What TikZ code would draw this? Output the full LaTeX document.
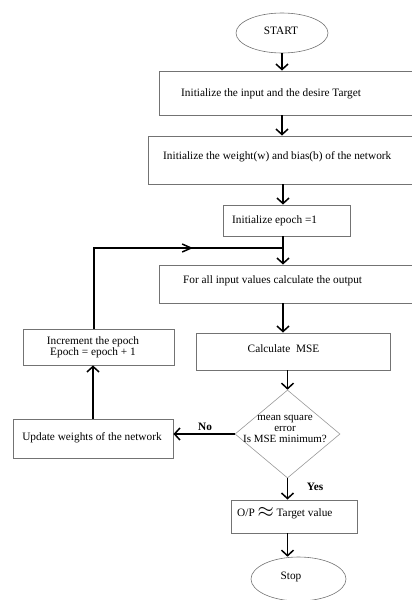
\documentclass[tikz,border=0pt]{standalone}
\usepackage{fontspec}
\setmainfont{Liberation Serif}
\usetikzlibrary{arrows.meta,shapes.geometric}
\begin{document}
\begin{tikzpicture}[x=1pt,y=-1pt,
  box/.style={draw=black!55,line width=0.9pt,rectangle,inner sep=0pt},
  oval/.style={draw=black!55,line width=0.6pt,ellipse,inner sep=0pt},
  dia/.style={draw=black!40,line width=0.6pt,diamond,inner sep=0pt},
  txt/.style={inner sep=0pt,font=\fontsize{11.3}{12}\selectfont},
  lbl/.style={inner sep=0pt,font=\fontsize{11.3}{12}\selectfont\bfseries},
  conn/.style={line width=1.5pt,black},
  arr/.style={conn,-{Straight Barb[length=5.5pt,width=12pt,line width=1.5pt]}},
  every node/.style={anchor=center}]
\useasboundingbox (0,0) rectangle (412,600);
\clip (0,0) rectangle (412,600);
% shapes
\node[oval,minimum width=92pt,minimum height=40pt] (start) at (282,33) {};
\node[txt] (tstart) at (281,31) {START};
\node[box,minimum width=256pt,minimum height=44pt] (b1) at (287,93) {};
\node[txt,anchor=west] (t1) at (181,94) {Initialize the input and the desire Target};
\node[box,minimum width=267pt,minimum height=48pt] (b2) at (281.5,160) {};
\node[txt,anchor=west] (t2) at (163,157) {Initialize the weight(w) and bias(b) of the network};
\node[box,minimum width=127pt,minimum height=31pt] (b3) at (286.5,220.5) {};
\node[txt,anchor=west] (t3) at (232,221) {Initialize epoch =1};
\coordinate (j) at (283,248);
\coordinate (c) at (94,248);
\coordinate (m) at (193,248);
\node[box,minimum width=256pt,minimum height=38pt] (b4) at (287,284) {};
\node[txt,anchor=west] (t4) at (183,281) {For all input values calculate the output};
\node[box,minimum width=194pt,minimum height=37pt] (b5) at (293,351.5) {};
\node[txt] (t5) at (283.5,349) {Calculate\ \ MSE};
\node[dia,minimum width=105pt,minimum height=88pt] (d) at (287.5,434) {};
\node[txt,align=center,font=\fontsize{11}{11}\selectfont] (td) at (285,428.5) {mean square\\error\\Is MSE minimum?};
\node[box,minimum width=160pt,minimum height=39pt] (u) at (93,438.5) {};
\node[txt] (tu) at (92,438) {Update weights of the network};
\node[box,minimum width=151pt,minimum height=36pt] (inc) at (98.5,347) {};
\node[txt,align=center,font=\fontsize{11.3}{11.3}\selectfont] (tinc) at (93,347.5) {Increment the epoch\\Epoch = epoch + 1};
\node[box,minimum width=126pt,minimum height=33pt] (op) at (294,516.5) {};
\node[txt,anchor=west] (top) at (237,513) {O/P \raisebox{-0.5pt}{\scalebox{1.9}{$\approx$}} Target value};
\node[oval,minimum width=95pt,minimum height=44pt] (stop) at (298.5,579) {};
\node[txt] (tstop) at (291,577) {Stop};
\node[lbl] (no) at (205,427) {No};
\node[lbl] (yes) at (315,487) {Yes};
% connectors
\draw[arr] (start.south) -- (start.south |- b1.north);
\draw[arr] (start.south |- b1.south) -- (start.south |- b2.north);
\draw[arr] (j |- b2.south) -- (j |- b3.north);
\draw[arr] (j |- b3.south) -- (j |- b4.north);
\draw[arr] (j |- b4.south) -- (j |- b5.north);
\draw[arr] (d |- b5.south) -- (d.north);
\draw[arr] (d.south) -- (d.south |- op.north);
\draw[arr] (d.south |- op.south) -- (d.south |- stop.north);
\draw[arr] (d.west) -- (d.west -| u.east);
\draw[arr] (u.north) -- (u.north |- inc.south);
\draw[conn] (inc.north -| c) -- (c) -- (j);
\draw[conn,-{Straight Barb[length=9pt,width=8pt,line width=1.5pt]}] (c) -- (m);
\end{tikzpicture}
\end{document}
